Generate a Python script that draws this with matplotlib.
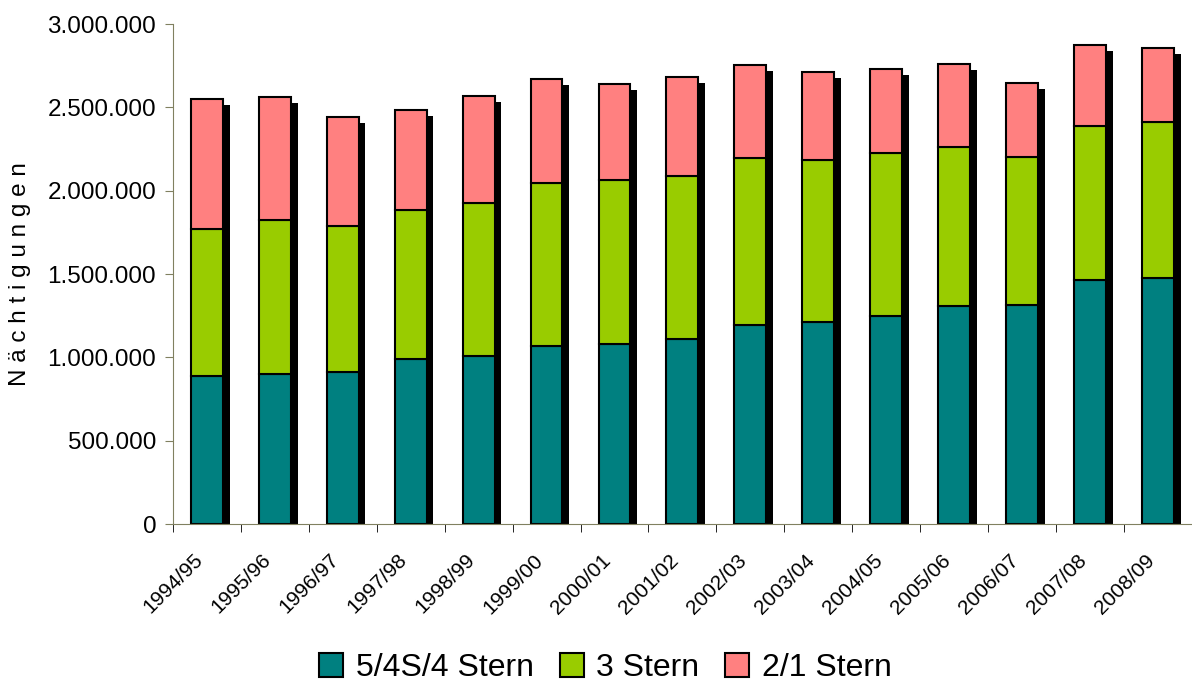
import matplotlib
matplotlib.use("Agg")
import matplotlib.pyplot as plt
import numpy as np
from matplotlib.ticker import FuncFormatter, MultipleLocator
from matplotlib.patches import Patch

# Data
seasons = ["1994/95", "1995/96", "1996/97", "1997/98", "1998/99", "1999/00",
           "2000/01", "2001/02", "2002/03", "2003/04", "2004/05", "2005/06",
           "2006/07", "2007/08", "2008/09"]
stern_54 = [888000, 900000, 912000, 990000, 1008000, 1068000, 1080000, 1110000,
            1194000, 1212000, 1248000, 1308000, 1314000, 1464000, 1476000]
stern_3 = [882000, 924000, 876000, 894000, 918000, 978000, 984000, 978000,
           1002000, 972000, 978000, 954000, 888000, 924000, 936000]
stern_21 = [780000, 738000, 654000, 600000, 642000, 624000, 576000, 594000,
            558000, 528000, 504000, 498000, 444000, 486000, 444000]
labels = ["5/4S/4 Stern", "3 Stern", "2/1 Stern"]
colors = ["#008080", "#99CC00", "#FF8080"]

plt.rcParams["font.family"] = ["Liberation Sans", "DejaVu Sans"]

fig = plt.figure(figsize=(11.92, 6.86), dpi=100)
ax = fig.add_axes([0.145, 0.236, 0.855, 0.729])

x = np.arange(len(seasons))
w = 0.47
s1 = np.array(stern_54)
s2 = np.array(stern_3)
s3 = np.array(stern_21)
total = s1 + s2 + s3

# black drop shadow behind each column
ax.bar(x + 0.1, total - 36000, width=w, color="black", zorder=1)

ax.bar(x, s1, width=w, color=colors[0], edgecolor="black", linewidth=1.5, zorder=2)
ax.bar(x, s2, width=w, bottom=s1, color=colors[1], edgecolor="black", linewidth=1.5, zorder=2)
ax.bar(x, s3, width=w, bottom=s1 + s2, color=colors[2], edgecolor="black", linewidth=1.5, zorder=2)

ax.set_xlim(-0.5, len(seasons) - 0.5)
ax.set_ylim(0, 3000000)
ax.yaxis.set_major_locator(MultipleLocator(500000))
ax.yaxis.set_major_formatter(FuncFormatter(lambda v, p: f"{int(v):,}".replace(",", ".")))
ax.tick_params(axis="y", labelsize=17.5, length=6, color="#808060", pad=6)

ax.set_xticks(x)
ax.set_xticklabels(seasons, rotation=45, ha="right", va="top", fontsize=15)
ax.tick_params(axis="x", length=0, pad=19)
ax.set_xticks(np.arange(len(seasons) + 1) - 0.5, minor=True)
ax.tick_params(axis="x", which="minor", length=6, color="black")

for side in ["top", "right"]:
    ax.spines[side].set_visible(False)
ax.spines["left"].set_color("#808060")
ax.spines["bottom"].set_color("#808060")

ax.set_ylabel("N ä c h t i g u n g e n", fontsize=17.5)
ax.yaxis.set_label_coords(-0.139, 0.5)

handles = [Patch(facecolor=c, edgecolor="black", linewidth=1.5) for c in colors]
fig.legend(handles, labels, loc="center", bbox_to_anchor=(0.508, 0.026), ncol=3,
           frameon=False, fontsize=23, handlelength=0.75, handleheight=0.75,
           handletextpad=0.4, columnspacing=0.8)

fig.savefig("out.png", dpi=100)
